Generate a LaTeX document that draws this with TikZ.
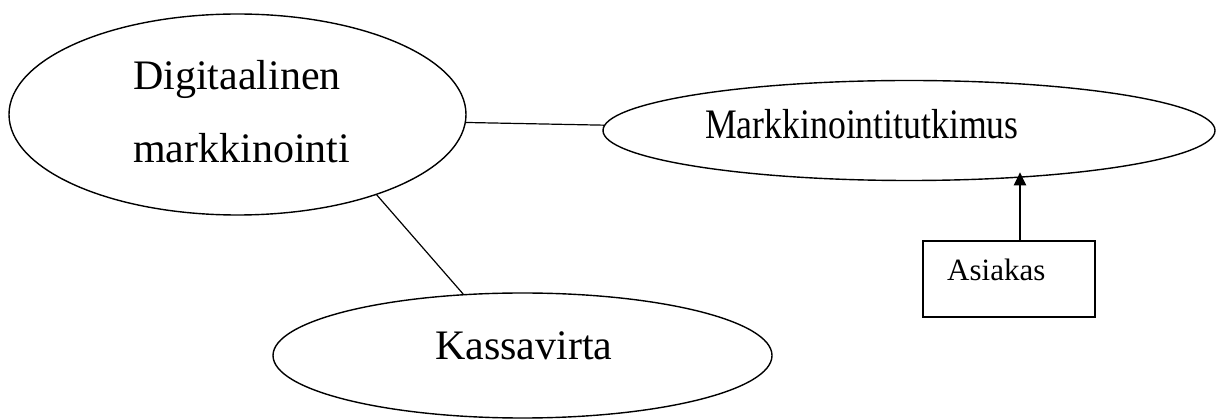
\documentclass[tikz,border=0pt]{standalone}
\usepackage{fontspec}
\usepackage{graphicx}
\setmainfont{Liberation Serif}
\usetikzlibrary{shapes.geometric,arrows.meta}
\tikzset{
  oval/.style={ellipse,draw=black,line width=1.4pt,inner sep=0pt},
  bigtext/.style={anchor=base west,inner sep=0pt,font=\fontsize{42}{50}\selectfont},
  smalltext/.style={anchor=base west,inner sep=0pt,font=\fontsize{31}{38}\selectfont},
  boxstyle/.style={draw=black,line width=1.4pt,inner sep=0pt,minimum width=172pt,minimum height=76pt},
  link/.style={draw=black,line width=1.2pt},
  uparrow/.style={draw=black,line width=2.2pt,-{Triangle[length=13pt,width=12pt]}}
}
\begin{document}
\begin{tikzpicture}[x=1pt,y=-1pt]
\useasboundingbox (0,0) rectangle (1216,419);
\node[oval,minimum width=457pt,minimum height=201pt] (d) at (237.5,114.5) {};
\node[oval,minimum width=612pt,minimum height=100pt] (m) at (909,130.5) {};
\node[oval,minimum width=499pt,minimum height=125pt] (k) at (522.5,355.5) {};
\node[boxstyle] (b) at (1009,279) {};
\node[bigtext] (t1) at (133,90) {Digitaalinen};
\node[bigtext] (t2) at (133,163) {markkinointi};
\node[bigtext] (t3) at (705,139) {\scalebox{0.85}[1]{Markkinointitutkimus}};
\node[bigtext] (t4) at (435,360) {Kassavirta};
\node[smalltext] (t5) at (947,281) {Asiakas};
\draw[link] (d.-2) -- (m.179);
\draw[link] (d.-30) -- (k.134);
\draw[uparrow] ([xshift=11pt]b.north) -- ++(0,-68);
\end{tikzpicture}
\end{document}
